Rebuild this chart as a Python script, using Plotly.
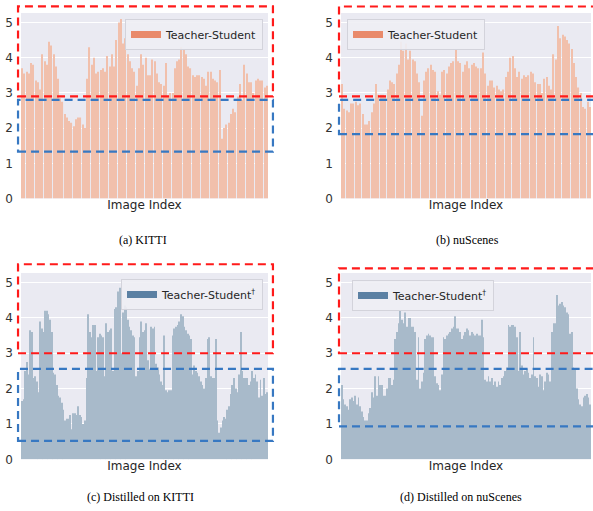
import plotly.graph_objects as go

# ---------------- data ----------------
kitti = [3.7, 3.55, 3.6, 3.55, 3.85, 3.8, 3.35, 3.3, 3.1, 4.1,
         3.9, 3.8, 4.45, 4.35, 4.1, 3.75, 3.4, 2.85, 2.75, 2.4,
         2.3, 2.2, 2.15, 2.05, 2.25, 2.3, 2.3, 2.1, 2.0, 3.4,
         4.3, 3.8, 4.0, 3.55, 3.6, 3.65, 3.7, 3.6, 4.05, 3.75,
         4.1, 3.75, 4.5, 5.0, 5.1, 4.4, 4.55, 4.1, 3.9, 3.7,
         3.6, 3.2, 3.7, 4.1, 3.8, 4.0, 3.5, 3.5, 3.95, 3.9,
         3.55, 3.3, 3.25, 3.2, 3.85, 2.9, 3.0, 3.0, 3.7, 3.9,
         3.95, 4.3, 4.25, 4.1, 3.75, 3.7, 3.5, 3.45, 3.5, 3.5,
         3.45, 3.4, 3.2, 3.6, 3.6, 3.4, 3.35, 3.3, 3.65, 1.7,
         2.0, 2.1, 2.15, 2.4, 2.55, 2.45, 2.9, 3.25, 2.8, 3.8,
         3.55, 3.3, 3.3, 3.0, 3.35, 3.4, 3.35, 3.35, 3.15, 3.2]

nuscenes = [3.25, 2.55, 2.5, 2.45, 2.7, 2.7, 2.75, 2.65, 2.7, 2.4,
            2.1, 2.1, 2.2, 2.45, 2.7, 3.25, 2.95, 2.95, 2.95, 2.9,
            3.1, 3.35, 3.3, 3.25, 3.55, 3.8, 4.45, 4.2, 4.4, 3.95,
            4.2, 3.95, 3.9, 3.55, 3.3, 2.35, 3.35, 3.6, 3.7, 3.8,
            3.65, 3.6, 3.05, 2.95, 3.6, 3.65, 3.55, 3.75, 3.85, 3.9,
            4.25, 3.9, 3.85, 3.6, 3.8, 3.9, 3.7, 3.8, 3.85, 3.75,
            3.7, 3.7, 4.15, 3.55, 3.2, 3.35, 3.35, 3.15, 3.2, 3.1,
            3.05, 3.1, 3.45, 3.6, 4.0, 4.05, 3.7, 3.45, 3.6, 3.4,
            3.5, 3.45, 3.5, 3.6, 3.55, 3.3, 3.25, 3.25, 3.0, 3.4,
            3.45, 3.2, 3.1, 4.1, 3.95, 4.9, 4.55, 4.65, 4.6, 4.5,
            4.4, 4.25, 3.85, 3.45, 3.15, 3.0, 2.6, 2.55, 2.75, 2.6]

kitti_distilled = [1.65, 1.7, 2.5, 2.75, 2.4, 3.65, 3.6, 2.3, 2.35, 2.2,
                   1.9, 3.9, 3.7, 3.6, 4.2, 4.2, 4.1, 3.95, 3.6, 2.45,
                   2.4, 2.1, 1.8, 1.75, 1.6, 1.4, 1.1, 1.15, 1.15, 1.25,
                   0.85, 1.3, 1.3, 1.25, 1.5, 1.25, 1.2, 1.0, 1.1, 2.3,
                   4.1, 3.6, 3.45, 3.8, 3.8, 2.5, 3.45, 3.55, 3.5, 3.45,
                   2.35, 3.85, 3.6, 3.65, 3.7, 2.5, 4.25, 4.3, 4.75, 4.85,
                   3.0, 4.15, 4.35, 4.3, 3.95, 3.75, 3.65, 3.5, 3.45, 2.35,
                   2.5, 3.45, 3.9, 3.6, 3.65, 3.85, 2.8, 2.55, 3.75, 3.7,
                   3.75, 2.7, 2.6, 2.4, 2.2, 2.1, 3.5, 1.95, 1.9, 1.95,
                   1.95, 3.5, 3.7, 3.75, 3.8, 3.9, 4.1, 4.05, 3.75, 3.65,
                   3.55, 3.5, 3.4, 2.4, 2.65, 2.5, 2.45, 2.35, 2.2, 2.1,
                   2.0, 2.3, 3.4, 3.45, 2.35, 2.3, 2.3, 3.4, 1.1, 0.75,
                   0.9, 1.1, 1.2, 1.15, 1.4, 1.5, 1.85, 2.1, 2.3, 2.0,
                   1.9, 2.4, 3.6, 2.5, 2.3, 2.3, 2.3, 2.1, 2.2, 2.5,
                   2.3, 2.4, 2.2, 1.75, 2.25, 1.8, 2.3, 1.85, 1.9]

nuscenes_distilled = [2.1, 1.7, 1.55, 1.5, 1.4, 1.7, 1.75, 1.65, 1.8, 1.55,
                      1.75, 1.5, 1.35, 1.2, 1.1, 1.1, 1.3, 1.45, 1.9, 1.75,
                      2.35, 1.8, 2.35, 2.1, 2.1, 1.8, 1.8, 2.0, 2.3, 2.3,
                      2.1, 2.25, 3.4, 3.6, 3.85, 4.2, 3.95, 3.85, 4.15, 3.75,
                      4.0, 4.0, 3.75, 3.75, 3.6, 2.25, 3.45, 2.0, 2.2, 2.45,
                      3.4, 3.5, 3.55, 3.5, 3.45, 3.45, 2.35, 2.15, 2.1, 1.95,
                      2.4, 3.45, 3.4, 3.5, 3.55, 3.6, 3.7, 3.75, 4.05, 3.7,
                      3.7, 3.6, 3.4, 3.5, 3.6, 3.7, 3.65, 3.5, 3.6, 3.55,
                      3.5, 3.55, 3.5, 3.5, 3.95, 3.45, 2.25, 2.2, 2.35, 2.2,
                      2.3, 2.1, 2.2, 2.05, 2.2, 2.1, 2.3, 2.35, 2.5, 2.6,
                      3.8, 3.75, 3.8, 3.8, 3.75, 3.45, 2.5, 3.6, 2.65, 2.4,
                      2.5, 2.55, 2.45, 2.3, 2.4, 3.45, 2.35, 2.3, 2.05, 2.4,
                      2.35, 1.95, 2.2, 2.45, 2.4, 2.2, 3.6, 3.85, 3.85, 4.65,
                      4.35, 4.4, 4.45, 4.35, 4.3, 4.15, 4.1, 3.55, 3.6, 2.6,
                      2.55, 2.0, 1.7, 1.55, 1.5, 1.75, 1.8, 1.85, 1.75, 1.55]

series = [kitti, nuscenes, kitti_distilled, nuscenes_distilled]
legend_labels = ["Teacher-Student", "Teacher-Student",
                 "Teacher-Student<sup>†</sup>", "Teacher-Student<sup>†</sup>"]
captions = ["(a) KITTI", "(b) nuScenes", "(c) Distilled on KITTI", "(d) Distilled on nuScenes"]
x_title = "Image Index"
y_ticks = [0, 1, 2, 3, 4, 5]

# threshold boxes (data values)
red_low = [2.9, 2.9, 3.0, 3.0]
blue_high = [2.8, 2.8, 2.56, 2.56]
blue_low = [1.33, 1.83, 0.52, 0.93]

# ---------------- styling / layout ----------------
W, H = 593, 511
Y_MAX = 5.27
bar_colors = ["#F1C0AC", "#F1C0AC", "#A8BACA", "#A8BACA"]
patch_colors = ["#E98A6B", "#E98A6B", "#5B80A3", "#5B80A3"]
RED = "#FF1A1A"
BLUE = "#3778C2"
BG = "#EAEAF2"
TXT = "#262626"

# plot areas in pixels (left, right, top, bottom)
areas = [(21, 268, 13, 198.5), (341, 591, 13, 198.5),
         (21, 268, 273, 459.3), (341, 591, 273, 459.3)]
# box extents outside plot area (domain fractions)
box_x = [(-0.012, 1.02), (-0.008, 1.06), (-0.012, 1.02), (-0.008, 1.06)]
red_top = [1.036, 1.035, 1.047, 1.025]
legend_pos = [(263, 19, "right"), (347, 19, "left"), (263, 279, "right"), (352, 280, "left")]
caption_pos = [(143, 240), (467, 240), (140, 497), (461, 497)]

fig = go.Figure()
layout = dict(width=W, height=H,
              margin=dict(l=0, r=0, t=0, b=0, pad=0, autoexpand=False),
              paper_bgcolor="white", plot_bgcolor=BG, bargap=0.5,
              font=dict(family="DejaVu Sans", color=TXT, size=12),
              shapes=[], annotations=[])

for i, vals in enumerate(series):
    n = i + 1
    xa = "x" if n == 1 else f"x{n}"
    ya = "y" if n == 1 else f"y{n}"
    lg = "legend" if n == 1 else f"legend{n}"
    fig.add_trace(go.Bar(x=list(range(len(vals))), y=vals, xaxis=xa, yaxis=ya,
                         marker=dict(color=bar_colors[i], line=dict(width=0)),
                         showlegend=False, hoverinfo="skip"))
    fig.add_trace(go.Scatter(x=[None], y=[None], xaxis=xa, yaxis=ya, mode="lines",
                             line=dict(color=patch_colors[i], width=7),
                             name=legend_labels[i], legend=lg, showlegend=True))
    l, r, t, b = areas[i]
    xkey = "xaxis" if n == 1 else f"xaxis{n}"
    ykey = "yaxis" if n == 1 else f"yaxis{n}"
    layout[xkey] = dict(domain=[l / W, r / W], anchor=ya, range=[-0.5, len(vals) - 0.5],
                        showgrid=False, showticklabels=False, zeroline=False, ticks="",
                        automargin=False,
                        title=dict(text=x_title, standoff=2, font=dict(size=12)))
    layout[ykey] = dict(domain=[1 - b / H, 1 - t / H], anchor=xa, range=[0, Y_MAX],
                        tickvals=y_ticks, showgrid=True, gridcolor="white", gridwidth=1,
                        zeroline=False, ticks="", ticklabelstandoff=7, automargin=False,
                        tickfont=dict(size=12, color="#333333"))
    lx, ly, anc = legend_pos[i]
    layout[lg] = dict(x=lx / W, y=1 - ly / H, xanchor=anc, yanchor="top",
                      xref="paper", yref="paper",
                      bgcolor="rgba(238,238,244,0.9)", bordercolor="#D3D3DB", borderwidth=1,
                      font=dict(size=11, color=TXT), itemwidth=30)
    # boxes
    x0, x1 = box_x[i]
    xr = f"{xa} domain"
    yr = f"{ya} domain"
    dash = "8px,5px"
    layout["shapes"].append(dict(type="rect", xref=xr, yref=yr, x0=x0, x1=x1,
                                 y0=red_low[i] / Y_MAX, y1=red_top[i],
                                 line=dict(color=RED, width=2.2, dash=dash), layer="above"))
    layout["shapes"].append(dict(type="rect", xref=xr, yref=yr, x0=x0, x1=x1,
                                 y0=blue_low[i] / Y_MAX, y1=blue_high[i] / Y_MAX,
                                 line=dict(color=BLUE, width=2.2, dash=dash), layer="above"))
    cx, cy = caption_pos[i]
    layout["annotations"].append(dict(text=captions[i], xref="paper", yref="paper",
                                      x=cx / W, y=1 - cy / H, showarrow=False,
                                      xanchor="center", yanchor="middle",
                                      font=dict(family="Liberation Serif", size=12, color="black")))

fig.update_layout(**layout)
fig.write_html("out.html",
               config={"displayModeBar": False},
               post_script="document.body.style.margin='0';"
                           "document.documentElement.style.overflow='hidden';")
